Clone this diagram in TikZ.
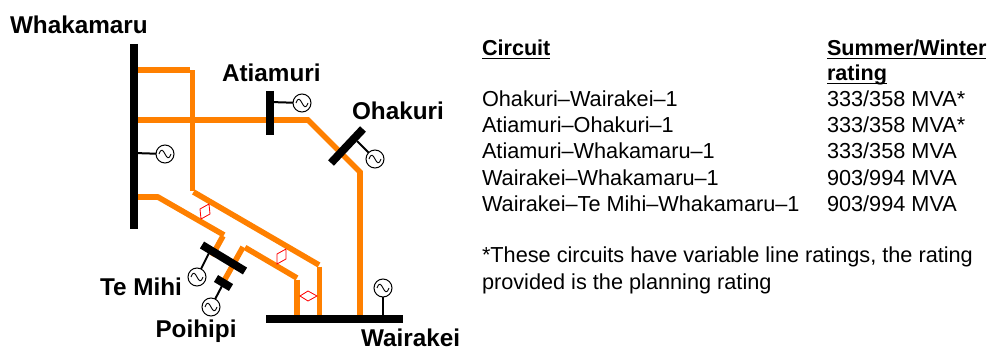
\documentclass[tikz,border=0pt]{standalone}
\usepackage{fontspec}
\setmainfont{Liberation Sans}
\usetikzlibrary{calc}
\definecolor{linecol}{RGB}{255,128,0}
\tikzset{
  every node/.style={inner sep=0pt,outer sep=0pt},
  line/.style={draw=linecol,line width=5.6pt},
  bus/.style={draw=black,line width=8pt},
  tie/.style={draw=black,line width=2pt},
  gen/.style={circle,draw=black,line width=1pt,fill=white,minimum size=18pt,
    path picture={\draw[line width=.9pt] ($(path picture bounding box.center)+(-6pt,0)$)
      .. controls +(2pt,6pt) and +(-2pt,4pt) .. ($(path picture bounding box.center)+(0,0)$)
      .. controls +(2pt,-4pt) and +(-2pt,-6pt) .. ($(path picture bounding box.center)+(6pt,0)$);}},
  place/.style={font=\fontsize{24.3pt}{26pt}\selectfont\bfseries,anchor=base west},
  body/.style={font=\fontsize{21.7pt}{24pt}\selectfont,anchor=base west},
  headrow/.style={body,font=\fontsize{21.6pt}{24pt}\selectfont\bfseries},
  breaker/.style={draw=red,line width=.8pt,fill=white},
}
\begin{document}
\begin{tikzpicture}[x=1pt,y=-1pt]
\useasboundingbox (0,0) rectangle (989,350);
% junction coordinates
\coordinate (wkTop) at (134,44); \coordinate (wkBot) at (134,229);
\coordinate (a1) at (134,70); \coordinate (a2) at (190,70); \coordinate (a2b) at (192.5,70.5); \coordinate (a3) at (192.5,191);
\coordinate (a3b) at (193.5,192); \coordinate (a4) at (319,265); \coordinate (a4b) at (319.5,266.5); \coordinate (a5) at (319.5,316);
\coordinate (b1) at (134,120); \coordinate (b2) at (308,120); \coordinate (b3) at (360,172); \coordinate (b4) at (360,316);
\coordinate (c1) at (134,197); \coordinate (c2) at (158,197); \coordinate (c2b) at (157,196.5); \coordinate (c3) at (224,235); \coordinate (c3b) at (223,236); \coordinate (c4) at (212,256);
\coordinate (d1) at (224,281); \coordinate (d2) at (243,247); \coordinate (d2b) at (245,247.5); \coordinate (d3) at (297,278); \coordinate (d3b) at (297,279.5); \coordinate (d4) at (297,316);
% lines
\draw[line] (a1) -- (a2);
\draw[line] (a2b) -- (a3);
\draw[line] (a3b) -- (a4);
\draw[line] (a4b) -- (a5);
\draw[line] (b1) -- (b2) -- (b3) -- (b4);
\draw[line] (c1) -- (c2);
\draw[line] (c2b) -- (c3);
\draw[line] (c3b) -- (c4);
\draw[line] (d1) -- (d2);
\draw[line] (d2b) -- (d3);
\draw[line] (d3b) -- (d4);
% breakers
\draw[breaker] (200,209) -- (209,204) -- (210,214) -- (201,219) -- cycle;
\draw[breaker] (277,254) -- (286,249) -- (286,259) -- (277,264) -- cycle;
\draw[breaker] (300,296) -- (308,291) -- (317,296) -- (308,301) -- cycle;
% generators
\node[gen] (gWk) at (165,154) {};
\node[gen] (gAt) at (302,103) {};
\node[gen] (gOh) at (375,159) {};
\node[gen] (gTm) at (197,277) {};
\node[gen] (gPo) at (211,307) {};
\node[gen] (gWr) at (383,288) {};
% buses
\coordinate (atTop) at (270,91); \coordinate (atBot) at (270,135);
\coordinate (ohA) at (331,163); \coordinate (ohB) at (363,129);
\coordinate (tmA) at (202,245); \coordinate (tmB) at (245,271);
\coordinate (poA) at (216,278.5); \coordinate (poB) at (231,287.5);
\coordinate (wrA) at (266,318.5); \coordinate (wrB) at (403,318.5);
\coordinate (tWk) at (134,153); \coordinate (tAt) at (270,102);
\coordinate (tOh) at (357,141); \coordinate (tTm) at (209,253);
\coordinate (tPo) at (223,284); \coordinate (tWr) at (383,318);
\draw[tie] (tWk) -- (gWk);
\draw[tie] (tAt) -- (gAt);
\draw[tie] (tOh) -- (gOh);
\draw[tie] (tTm) -- (gTm);
\draw[tie] (tPo) -- (gPo);
\draw[tie] (tWr) -- (gWr);
\draw[bus] (wkTop) -- (wkBot);
\draw[bus] (atTop) -- (atBot);
\draw[bus] (ohA) -- (ohB);
\draw[bus] (tmA) -- (tmB);
\draw[bus] (poA) -- (poB);
\draw[bus] (wrA) -- (wrB);
% station names
\node[place] (nWk) at (10,33.5) {Whakamaru};
\node[place] (nAt) at (222,82) {Atiamuri};
\node[place] (nOh) at (352,120) {Ohakuri};
\node[place] (nTm) at (100,295) {Te Mihi};
\node[place] (nPo) at (155.5,337) {Poihipi};
\node[place] (nWr) at (361,346) {Wairakei};
% table
\node[headrow] (h1) at (482,55.5) {Circuit};
\node[headrow] (h2) at (827,55.5) {Summer/Winter};
\node[headrow] (h3) at (827,80.5) {rating};
\draw[line width=1.6pt] (h1.base west)++(0,3) -- ($(h1.base east)+(0,3)$);
\draw[line width=1.6pt] (h2.base west)++(0,3) -- ($(h2.base east)+(0,3)$);
\draw[line width=1.6pt] (h3.base west)++(0,3) -- ($(h3.base east)+(0,3)$);
\node[body] (r1) at (482,107) {Ohakuri–Wairakei–1};
\node[body] (r2) at (482,133) {Atiamuri–Ohakuri–1};
\node[body] (r3) at (482,159) {Atiamuri–Whakamaru–1};
\node[body] (r4) at (482,185.5) {Wairakei–Whakamaru–1};
\node[body] (r5) at (482,211.5) {Wairakei–Te Mihi–Whakamaru–1};
\node[body] (v1) at (827,107) {333/358 MVA*};
\node[body] (v2) at (827,133) {333/358 MVA*};
\node[body] (v3) at (827,159) {333/358 MVA};
\node[body] (v4) at (827,185.5) {903/994 MVA};
\node[body] (v5) at (827,211.5) {903/994 MVA};
\node[body] (f1) at (482,262.5) {*These circuits have variable line ratings, the rating};
\node[body] (f2) at (482,289) {provided is the planning rating};
\end{tikzpicture}
\end{document}
